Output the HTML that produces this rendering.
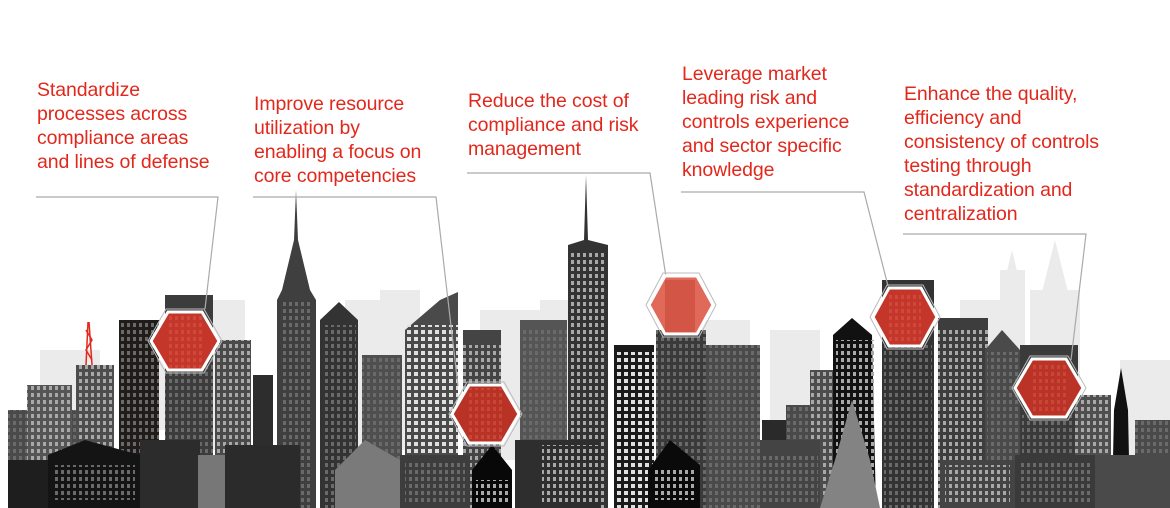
<!DOCTYPE html>
<html><head><meta charset="utf-8"><style>
html,body{margin:0;padding:0;background:#fff;}
#c{position:relative;width:1170px;height:508px;overflow:hidden;background:#fff;font-family:"Liberation Sans",sans-serif;}
.t{position:absolute;color:#e2281c;font-size:19.5px;line-height:24px;white-space:nowrap;letter-spacing:-0.1px;}
svg{position:absolute;left:0;top:0;}
</style></head><body><div id="c">
<svg width="1170" height="508" viewBox="0 0 1170 508">
<defs>
<pattern id="w" width="6" height="7" patternUnits="userSpaceOnUse"><rect x="1" y="1" width="3" height="4" fill="#a8a8a8"/></pattern>
<pattern id="wd" width="6" height="7" patternUnits="userSpaceOnUse"><rect x="1" y="1" width="3" height="4" fill="#6a6a6a"/></pattern>
<pattern id="ww" width="7" height="7" patternUnits="userSpaceOnUse"><rect x="1" y="1" width="4" height="4" fill="#e0e0e0"/></pattern>
<pattern id="wr" width="6" height="7" patternUnits="userSpaceOnUse"><rect x="1" y="1" width="3" height="4" fill="#e06a5a"/></pattern>
</defs>
<g fill="#ebebeb">
<rect x="40" y="350" width="60" height="100"/><rect x="120" y="330" width="50" height="100"/>
<rect x="205" y="300" width="40" height="150"/><rect x="345" y="300" width="60" height="150"/>
<rect x="380" y="290" width="40" height="150"/><rect x="480" y="310" width="70" height="150"/>
<rect x="540" y="300" width="40" height="150"/><rect x="690" y="320" width="60" height="150"/>
<rect x="770" y="330" width="50" height="150"/><rect x="960" y="300" width="60" height="150"/>
<rect x="1000" y="270" width="25" height="150"/><rect x="1030" y="290" width="50" height="150"/>
<rect x="1120" y="360" width="50" height="150"/><polygon points="1000,300 1012,250 1024,300"/>
<polygon points="1040,300 1055,240 1070,300"/>
</g>
<g>
<rect x="8" y="410" width="70" height="98" fill="#4a4a4a"/><rect x="8" y="410" width="70" height="98" fill="url(#wd)"/>
<rect x="27" y="385" width="45" height="123" fill="#555"/><rect x="27" y="385" width="45" height="123" fill="url(#w)"/>
<rect x="76" y="365" width="38" height="143" fill="#4d4d4d"/><rect x="76" y="365" width="38" height="143" fill="url(#w)"/>
<g stroke="#e2281c" stroke-width="1.5" fill="none"><line x1="86" y1="365" x2="88" y2="322"/><line x1="92" y1="365" x2="89" y2="322"/><path d="M86,330 L92,340 L86,350 L92,360"/></g>
<rect x="119" y="320" width="40" height="188" fill="#201c1a"/><rect x="119" y="320" width="40" height="188" fill="url(#wd)"/>
<rect x="165" y="295" width="48" height="213" fill="#3c3c3c"/><rect x="165" y="340" width="48" height="168" fill="url(#wd)"/>
<rect x="215" y="340" width="36" height="168" fill="#4a4a4a"/><rect x="215" y="340" width="36" height="168" fill="url(#w)"/>
<rect x="253" y="375" width="20" height="133" fill="#2d2d2d"/>
<polygon points="296,190 298,240 310,290 316,300 316,508 277,508 277,300 282,290 294,240" fill="#3f3f3f"/>
<rect x="280" y="300" width="33" height="208" fill="url(#wd)"/>
<polygon points="320,320 339,302 358,320 358,508 320,508" fill="#333"/><rect x="322" y="325" width="34" height="183" fill="url(#wd)"/>
<rect x="362" y="355" width="40" height="153" fill="#4f4f4f"/><rect x="362" y="355" width="40" height="153" fill="url(#wd)"/>
<polygon points="405,330 440,300 458,292 458,508 405,508" fill="#4a4a4a"/><rect x="405" y="325" width="53" height="183" fill="url(#ww)"/>
<rect x="463" y="330" width="38" height="178" fill="#444"/><rect x="463" y="345" width="38" height="163" fill="url(#w)"/>
<rect x="520" y="320" width="47" height="188" fill="#555"/><rect x="520" y="330" width="47" height="178" fill="url(#wd)"/>
<polygon points="586,175 588,240 608,245 608,508 568,508 568,245 584,240" fill="#333"/><rect x="569" y="250" width="38" height="258" fill="url(#w)"/>
<rect x="614" y="345" width="40" height="163" fill="#1a1a1a"/><rect x="614" y="352" width="40" height="156" fill="url(#ww)"/>
<rect x="656" y="330" width="50" height="178" fill="#3a3a3a"/><rect x="656" y="330" width="50" height="178" fill="url(#wd)"/>
<rect x="706" y="345" width="54" height="163" fill="#4a4a4a"/><rect x="706" y="345" width="54" height="163" fill="url(#wd)"/>
<rect x="762" y="420" width="30" height="88" fill="#2a2a2a"/>
<rect x="786" y="405" width="30" height="103" fill="#4a4a4a"/><rect x="786" y="405" width="30" height="103" fill="url(#wd)"/>
<rect x="810" y="370" width="30" height="138" fill="#4c4c4c"/><rect x="810" y="370" width="30" height="138" fill="url(#w)"/>
<polygon points="833,335 852,318 872,335 876,508 833,508" fill="#111"/><rect x="836" y="340" width="38" height="168" fill="url(#w)"/>
<rect x="882" y="280" width="52" height="228" fill="#333"/><rect x="884" y="345" width="48" height="163" fill="url(#wd)"/>
<rect x="938" y="318" width="50" height="190" fill="#3d3d3d"/><rect x="938" y="330" width="50" height="178" fill="url(#w)"/>
<polygon points="985,350 1002,330 1020,350 1020,508 985,508" fill="#4a4a4a"/><rect x="987" y="352" width="33" height="156" fill="url(#wd)"/>
<rect x="1020" y="345" width="58" height="163" fill="#3a3a3a"/><rect x="1022" y="415" width="54" height="93" fill="url(#wd)"/>
<rect x="1075" y="395" width="36" height="113" fill="#4f4f4f"/><rect x="1075" y="395" width="36" height="113" fill="url(#w)"/>
<polygon points="1121,368 1128,410 1130,508 1112,508 1114,410" fill="#111"/>
<rect x="1135" y="420" width="35" height="88" fill="#4a4a4a"/><rect x="1135" y="420" width="35" height="88" fill="url(#wd)"/>
</g>
<g>
<rect x="8" y="460" width="45" height="48" fill="#1e1e1e"/>
<polygon points="48,455 85,440 140,455 140,508 48,508" fill="#141414"/>
<rect x="55" y="465" width="80" height="35" fill="url(#wd)"/>
<rect x="140" y="440" width="60" height="68" fill="#2c2c2c"/>
<rect x="198" y="455" width="30" height="53" fill="#777"/>
<rect x="225" y="445" width="75" height="63" fill="#2b2b2b"/>
<polygon points="335,470 365,440 400,460 400,508 335,508" fill="#7a7a7a"/>
<rect x="400" y="455" width="70" height="53" fill="#3d3d3d"/><rect x="405" y="460" width="60" height="45" fill="url(#wd)"/>
<polygon points="472,470 492,445 512,470 512,508 472,508" fill="#080808"/><rect x="476" y="480" width="32" height="22" fill="url(#w)"/>
<rect x="515" y="440" width="85" height="68" fill="#2e2e2e"/><rect x="542" y="445" width="56" height="60" fill="url(#w)"/>
<polygon points="648,470 670,440 700,465 700,508 648,508" fill="#0a0a0a"/><rect x="655" y="470" width="40" height="30" fill="url(#w)"/>
<rect x="760" y="440" width="60" height="68" fill="#444"/><rect x="762" y="455" width="56" height="50" fill="url(#wd)"/>
<polygon points="820,508 835,460 852,400 870,460 880,508" fill="#838383"/>
<rect x="940" y="460" width="75" height="48" fill="#444"/><rect x="945" y="465" width="65" height="40" fill="url(#w)"/>
<rect x="1015" y="455" width="80" height="53" fill="#3a3a3a"/><rect x="1020" y="460" width="70" height="45" fill="url(#wd)"/>
<rect x="1095" y="455" width="75" height="53" fill="#4a4a4a"/>
</g>
<g stroke="#aaa" stroke-width="1.2" fill="none">
<polyline points="36,197 218,197 205,309"/>
<polyline points="253,197 436,197 458,386"/>
<polyline points="467,173 650,173 666,277"/>
<polyline points="681,192 864,192 888,286"/>
<polyline points="903,234 1086,234 1071,360"/>
</g>
<g stroke="#fff" stroke-width="3">
<polygon points="151,341 168,312 202,312 219,341 202,370 168,370" fill="#c4362a"/>
<polygon points="452,414 469,385 502,385 519,414 502,443 469,443" fill="#b93226"/>
<polygon points="649,305 665,276 697,276 713,305 697,334 665,334" fill="#e0695a"/>
<polygon points="873,317 889,288 921,288 937,317 921,346 889,346" fill="#c4362a"/>
<polygon points="1015,388 1032,359 1066,359 1083,388 1066,417 1032,417" fill="#bb3326"/>
</g>
<g opacity=".35">
<rect x="168" y="316" width="34" height="52" fill="url(#wr)"/>
<rect x="469" y="388" width="33" height="52" fill="url(#wr)"/>
<rect x="665" y="280" width="30" height="52" fill="#b83023"/>
<rect x="889" y="292" width="32" height="52" fill="url(#wr)"/>
<rect x="1032" y="362" width="34" height="52" fill="url(#wr)"/>
</g>
<g stroke="#bbb" stroke-width="1" fill="none">
<polygon points="148,341 166,309 204,309 222,341 204,373 166,373"/>
<polygon points="449,414 467,382 504,382 522,414 504,446 467,446"/>
<polygon points="646,305 663,273 699,273 716,305 699,337 663,337"/>
<polygon points="870,317 887,285 923,285 940,317 923,349 887,349"/>
<polygon points="1012,388 1030,356 1068,356 1086,388 1068,420 1030,420"/>
</g>
</svg>
<div class="t" style="left:37px;top:78px">Standardize<br>processes across<br>compliance areas<br>and lines of defense</div>
<div class="t" style="left:254px;top:92px">Improve resource<br>utilization by<br>enabling a focus on<br>core competencies</div>
<div class="t" style="left:468px;top:89px">Reduce the cost of<br>compliance and risk<br>management</div>
<div class="t" style="left:682px;top:62px">Leverage market<br>leading risk and<br>controls experience<br>and sector specific<br>knowledge</div>
<div class="t" style="left:904px;top:82px">Enhance the quality,<br>efficiency and<br>consistency of controls<br>testing through<br>standardization and<br>centralization</div>
</div></body></html>
